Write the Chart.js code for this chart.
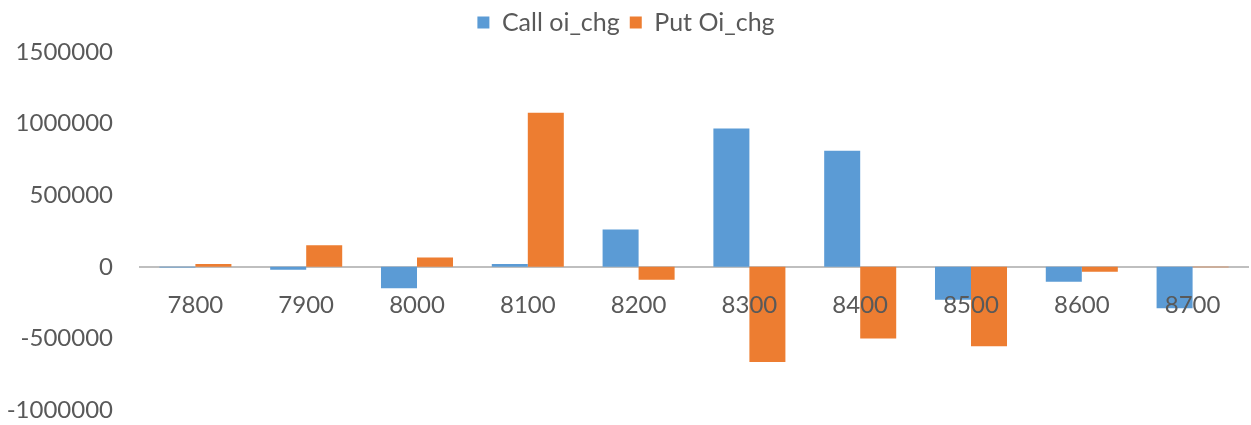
<!DOCTYPE html>
<html>
<head>
<meta charset="utf-8">
<script src="https://cdn.jsdelivr.net/npm/chart.js@4.4.0/dist/chart.umd.min.js"></script>
<style>
  html, body { margin: 0; padding: 0; background: #fff; }
  #wrap { width: 1251px; height: 425px; }
</style>
</head>
<body>
<div id="wrap"><canvas id="oiChart"></canvas></div>
<script>
/* strikes */
const strikes = ["7800", "7900", "8000", "8100", "8200", "8300", "8400", "8500", "8600", "8700"];

/* OI change per strike */
const callOiChg = [-5000, -20000, -150000, 20000, 260000, 965000, 810000, -230000, -105000, -290000];
const putOiChg = [20000, 150000, 65000, 1075000, -90000, -665000, -500000, -555000, -35000, -3000];

/* y axis ticks */
const yTicks = [-1000000, -500000, 0, 500000, 1000000, 1500000];

const fontFam = "Lato, 'Open Sans', sans-serif";

/* a bit more room under the legend */
const legendGap = {
    id: 'legendGap',
    beforeInit(chart) {
        const fit = chart.legend.fit;
        chart.legend.fit = function () {
            fit.bind(chart.legend)();
            this.height += 7;
        };
    }
};

const ctx = document.getElementById('oiChart');
new Chart(ctx, {
    type: 'bar',
    data: {
        labels: strikes,
        datasets: [
            { label: 'Call oi_chg', data: callOiChg, backgroundColor: '#5B9BD5' },
            { label: 'Put Oi_chg', data: putOiChg, backgroundColor: '#ED7D31' }
        ]
    },
    plugins: [legendGap],
    options: {
        responsive: true,
        maintainAspectRatio: false,
        animation: false,
        layout: { padding: { left: 4, right: 3, top: 0, bottom: 15 } },
        datasets: {
            bar: { categoryPercentage: 0.65, barPercentage: 1.0 }
        },
        plugins: {
            legend: {
                position: 'top',
                labels: {
                    boxWidth: 12,
                    boxHeight: 12,
                    color: '#595959',
                    font: { family: fontFam, size: 25 },
                    padding: 10
                }
            },
            tooltip: { enabled: false }
        },
        scales: {
            x: {
                position: { y: 0 },
                afterFit: axis => {
                    axis.height = 0;
                    axis.paddingTop = 0;
                    axis.paddingBottom = 0;
                },
                grid: { display: false },
                border: { display: true, color: '#BFBFBF', width: 2 },
                ticks: {
                    z: 1,
                    color: '#595959',
                    padding: 16,
                    font: { family: fontFam, size: 24 }
                }
            },
            y: {
                min: -1000000,
                max: 1500000,
                afterBuildTicks: axis => { axis.ticks = yTicks.map(v => ({ value: v })); },
                afterFit: axis => {
                    axis.width = 136;
                    axis.paddingTop = 0;
                    axis.paddingBottom = 0;
                },
                grid: { display: false },
                border: { display: false },
                ticks: {
                    color: '#595959',
                    padding: 19,
                    font: { family: fontFam, size: 24 },
                    callback: v => String(v)
                }
            }
        }
    }
});
</script>
</body>
</html>
